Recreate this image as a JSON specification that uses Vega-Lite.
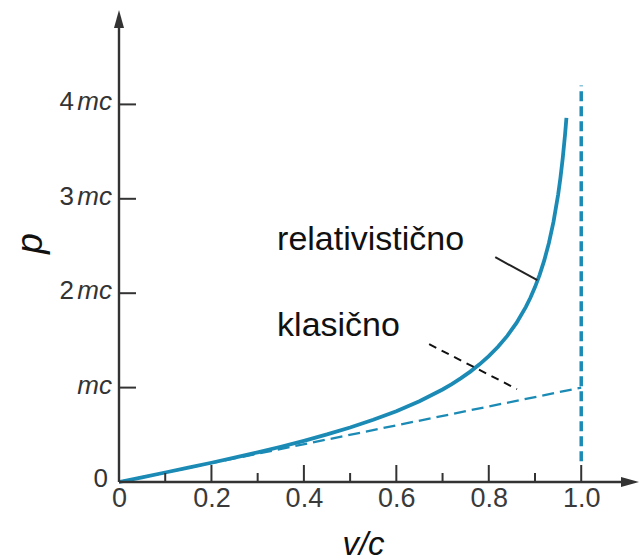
{
  "$schema": "https://vega.github.io/schema/vega-lite/v6.json",
  "width": 520,
  "height": 472,
  "autosize": "none",
  "padding": {"left": 119, "top": 10, "right": 2, "bottom": 78},
  "background": "white",
  "config": {"view": {"stroke": null}, "axis": {"grid": false}},
  "datasets": {
    "rel": [
      {"v": 0, "p": 0}, {"v": 0.05, "p": 0.0501}, {"v": 0.1, "p": 0.1005}, {"v": 0.15, "p": 0.1517},
      {"v": 0.2, "p": 0.2041}, {"v": 0.25, "p": 0.2582}, {"v": 0.3, "p": 0.3145}, {"v": 0.35, "p": 0.3736},
      {"v": 0.4, "p": 0.4364}, {"v": 0.45, "p": 0.5039}, {"v": 0.5, "p": 0.5774}, {"v": 0.55, "p": 0.6586},
      {"v": 0.6, "p": 0.75}, {"v": 0.65, "p": 0.8553}, {"v": 0.7, "p": 0.9802}, {"v": 0.72, "p": 1.0375},
      {"v": 0.74, "p": 1.1002}, {"v": 0.76, "p": 1.1694}, {"v": 0.78, "p": 1.2465}, {"v": 0.8, "p": 1.3333},
      {"v": 0.82, "p": 1.4327}, {"v": 0.84, "p": 1.5481}, {"v": 0.86, "p": 1.6853}, {"v": 0.88, "p": 1.8527},
      {"v": 0.89, "p": 1.9519}, {"v": 0.9, "p": 2.0647}, {"v": 0.91, "p": 2.1948}, {"v": 0.92, "p": 2.3474},
      {"v": 0.93, "p": 2.5302}, {"v": 0.94, "p": 2.7552}, {"v": 0.95, "p": 3.0424}, {"v": 0.955, "p": 3.2197},
      {"v": 0.96, "p": 3.4286}, {"v": 0.965, "p": 3.68}, {"v": 0.968, "p": 3.857}
    ],
    "cls": [{"v": 0, "p": 0}, {"v": 1, "p": 1}],
    "vline": [{"v": 1, "p": 0.22, "p2": 4.2}],
    "axes": [{"v": 0, "p": 0, "v2": 1.11, "p2": 0}, {"v": 0, "p": 0, "v2": 0, "p2": 4.85}],
    "majorTicks": [{"v": 0.2}, {"v": 0.4}, {"v": 0.6}, {"v": 0.8}, {"v": 1.0}],
    "minorTicks": [{"v": 0.1}, {"v": 0.3}, {"v": 0.5}, {"v": 0.7}, {"v": 0.9}],
    "yTicks": [{"p": 1}, {"p": 2}, {"p": 3}, {"p": 4}],
    "yLabels": [{"p": 1, "n": "", "u": "mc"}, {"p": 2, "n": "2", "u": "mc"}, {"p": 3, "n": "3", "u": "mc"}, {"p": 4, "n": "4", "u": "mc"}],
    "notes": [{"v": 0.342, "p": 2.455, "t": "relativistično"}, {"v": 0.342, "p": 1.545, "t": "klasično"}],
    "relLeader": [{"v": 0.814, "p": 2.381}, {"v": 0.905, "p": 2.138}],
    "clsLeader": [{"v": 0.671, "p": 1.46}, {"v": 0.861, "p": 0.984}]
  },
  "layer": [
    {
      "data": {"name": "rel"},
      "mark": {"type": "line", "color": "#1b8bb5", "strokeWidth": 3.8, "strokeCap": "butt"},
      "encoding": {
        "x": {"field": "v", "type": "quantitative", "scale": {"domain": [0, 1.125], "nice": false, "zero": false},
          "axis": {"values": [0, 0.2, 0.4, 0.6, 0.8, 1], "labelExpr": "datum.value == 0 ? '0' : format(datum.value, '.1f')",
            "domain": false, "ticks": false, "grid": false, "labelFont": "Liberation Sans", "labelFontSize": 27,
            "labelColor": "#3a3a3a", "labelPadding": 3, "labelBaseline": "top", "labelFlush": false, "labelOverlap": false,
            "title": "v/c", "titleFont": "Liberation Sans", "titleFontStyle": "italic", "titleFontWeight": "normal",
            "titleFontSize": 33, "titleColor": "#111111", "titleX": 244, "titleY": 72, "titleAlign": "center", "titleBaseline": "alphabetic"}},
        "y": {"field": "p", "type": "quantitative", "scale": {"domain": [0, 5], "nice": false, "zero": false},
          "axis": {"domain": false, "ticks": false, "labels": false, "grid": false, "title": "p",
            "titleFont": "Liberation Sans", "titleFontStyle": "italic", "titleFontWeight": "normal", "titleFontSize": 37,
            "titleColor": "#111111", "titleAngle": -90, "titleX": -89, "titleY": 233, "titleAlign": "center", "titleBaseline": "middle"}}
      }
    },
    {
      "data": {"name": "cls"},
      "mark": {"type": "line", "color": "#1b8bb5", "strokeWidth": 2.3, "strokeDash": [12, 6]},
      "encoding": {
        "x": {"field": "v", "type": "quantitative", "scale": {"domain": [0, 1.125], "nice": false, "zero": false}},
        "y": {"field": "p", "type": "quantitative", "scale": {"domain": [0, 5], "nice": false, "zero": false}}
      }
    },
    {
      "data": {"name": "vline"},
      "mark": {"type": "rule", "color": "#1b8bb5", "strokeWidth": 3.5, "strokeDash": [10, 5]},
      "encoding": {
        "x": {"field": "v", "type": "quantitative", "scale": {"domain": [0, 1.125], "nice": false, "zero": false}},
        "y": {"field": "p", "type": "quantitative", "scale": {"domain": [0, 5], "nice": false, "zero": false}},
        "y2": {"field": "p2"}
      }
    },
    {
      "data": {"name": "axes"},
      "mark": {"type": "rule", "color": "#333333", "strokeWidth": 2.4},
      "encoding": {
        "x": {"field": "v", "type": "quantitative", "scale": {"domain": [0, 1.125], "nice": false, "zero": false}},
        "x2": {"field": "v2"},
        "y": {"field": "p", "type": "quantitative", "scale": {"domain": [0, 5], "nice": false, "zero": false}},
        "y2": {"field": "p2"}
      }
    },
    {
      "data": {"values": [{"v": 0, "p": 5}]},
      "mark": {"type": "point", "filled": true, "opacity": 1, "color": "#333333", "size": 100, "shape": "M0,0L1,3.6L-1,3.6Z"},
      "encoding": {
        "x": {"field": "v", "type": "quantitative", "scale": {"domain": [0, 1.125], "nice": false, "zero": false}},
        "y": {"field": "p", "type": "quantitative", "scale": {"domain": [0, 5], "nice": false, "zero": false}}
      }
    },
    {
      "data": {"values": [{"v": 1.125, "p": 0}]},
      "mark": {"type": "point", "filled": true, "opacity": 1, "color": "#333333", "size": 100, "shape": "M0,0L-3.6,-1L-3.6,1Z"},
      "encoding": {
        "x": {"field": "v", "type": "quantitative", "scale": {"domain": [0, 1.125], "nice": false, "zero": false}},
        "y": {"field": "p", "type": "quantitative", "scale": {"domain": [0, 5], "nice": false, "zero": false}}
      }
    },
    {
      "data": {"name": "majorTicks"},
      "mark": {"type": "tick", "orient": "vertical", "color": "#333333", "size": 17, "thickness": 2, "yOffset": -8.5, "opacity": 1},
      "encoding": {
        "x": {"field": "v", "type": "quantitative", "scale": {"domain": [0, 1.125], "nice": false, "zero": false}},
        "y": {"datum": 0, "type": "quantitative", "scale": {"domain": [0, 5], "nice": false, "zero": false}}
      }
    },
    {
      "data": {"name": "minorTicks"},
      "mark": {"type": "tick", "orient": "vertical", "color": "#333333", "size": 9, "thickness": 2, "yOffset": -4.5, "opacity": 1},
      "encoding": {
        "x": {"field": "v", "type": "quantitative", "scale": {"domain": [0, 1.125], "nice": false, "zero": false}},
        "y": {"datum": 0, "type": "quantitative", "scale": {"domain": [0, 5], "nice": false, "zero": false}}
      }
    },
    {
      "data": {"name": "yTicks"},
      "mark": {"type": "tick", "orient": "horizontal", "color": "#333333", "size": 17, "thickness": 2, "xOffset": 8.5, "opacity": 1},
      "encoding": {
        "x": {"datum": 0, "type": "quantitative", "scale": {"domain": [0, 1.125], "nice": false, "zero": false}},
        "y": {"field": "p", "type": "quantitative", "scale": {"domain": [0, 5], "nice": false, "zero": false}}
      }
    },
    {
      "data": {"name": "yLabels"},
      "mark": {"type": "text", "align": "right", "baseline": "middle", "dx": -7, "dy": -2, "font": "Liberation Sans", "fontStyle": "italic", "fontSize": 26, "color": "#333333"},
      "encoding": {
        "x": {"datum": 0, "type": "quantitative", "scale": {"domain": [0, 1.125], "nice": false, "zero": false}},
        "y": {"field": "p", "type": "quantitative", "scale": {"domain": [0, 5], "nice": false, "zero": false}},
        "text": {"field": "u"}
      }
    },
    {
      "data": {"name": "yLabels"},
      "mark": {"type": "text", "align": "right", "baseline": "middle", "dx": -45, "dy": -2, "font": "Liberation Sans", "fontSize": 26, "color": "#333333"},
      "encoding": {
        "x": {"datum": 0, "type": "quantitative", "scale": {"domain": [0, 1.125], "nice": false, "zero": false}},
        "y": {"field": "p", "type": "quantitative", "scale": {"domain": [0, 5], "nice": false, "zero": false}},
        "text": {"field": "n"}
      }
    },
    {
      "data": {"values": [{"v": 0, "p": 0, "n": "0"}]},
      "mark": {"type": "text", "align": "right", "baseline": "middle", "dx": -11, "dy": -3, "font": "Liberation Sans", "fontSize": 26, "color": "#333333"},
      "encoding": {
        "x": {"field": "v", "type": "quantitative", "scale": {"domain": [0, 1.125], "nice": false, "zero": false}},
        "y": {"field": "p", "type": "quantitative", "scale": {"domain": [0, 5], "nice": false, "zero": false}},
        "text": {"field": "n"}
      }
    },
    {
      "data": {"name": "notes"},
      "mark": {"type": "text", "align": "left", "baseline": "alphabetic", "font": "Liberation Sans", "fontSize": 34, "color": "#111111"},
      "encoding": {
        "x": {"field": "v", "type": "quantitative", "scale": {"domain": [0, 1.125], "nice": false, "zero": false}},
        "y": {"field": "p", "type": "quantitative", "scale": {"domain": [0, 5], "nice": false, "zero": false}},
        "text": {"field": "t"}
      }
    },
    {
      "data": {"name": "relLeader"},
      "mark": {"type": "line", "color": "#222222", "strokeWidth": 2},
      "encoding": {
        "x": {"field": "v", "type": "quantitative", "scale": {"domain": [0, 1.125], "nice": false, "zero": false}},
        "y": {"field": "p", "type": "quantitative", "scale": {"domain": [0, 5], "nice": false, "zero": false}}
      }
    },
    {
      "data": {"name": "clsLeader"},
      "mark": {"type": "line", "color": "#111111", "strokeWidth": 2, "strokeDash": [8, 6]},
      "encoding": {
        "x": {"field": "v", "type": "quantitative", "scale": {"domain": [0, 1.125], "nice": false, "zero": false}},
        "y": {"field": "p", "type": "quantitative", "scale": {"domain": [0, 5], "nice": false, "zero": false}}
      }
    }
  ]
}
